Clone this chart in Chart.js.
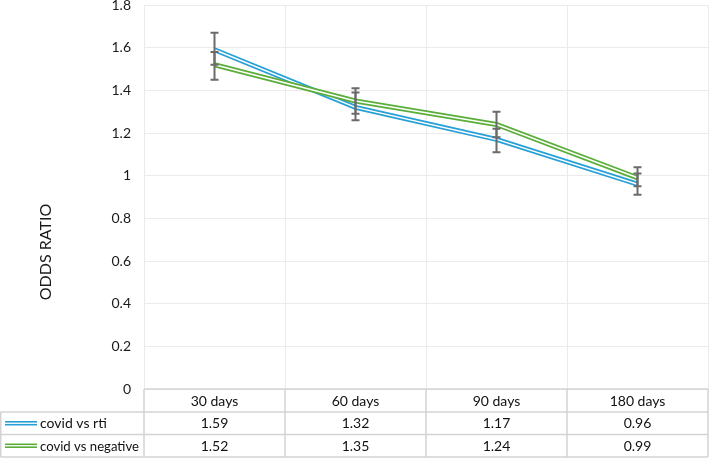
<!DOCTYPE html>
<html>
<head>
<meta charset="utf-8">
<script src="https://cdn.jsdelivr.net/npm/chart.js@4.4.0/dist/chart.umd.min.js"></script>
<style>
  html, body { margin: 0; padding: 0; background: #fff; }
</style>
</head>
<body>
<canvas id="chart" width="709" height="458"></canvas>
<script>
// ── Data ──
const categories = ['30 days', '60 days', '90 days', '180 days'];
const seriesNames = ['covid vs rti', 'covid vs negative'];
const rtiValues = [1.59, 1.32, 1.17, 0.96];
const rtiLow    = [1.52, 1.26, 1.11, 0.91];
const rtiHigh   = [1.67, 1.39, 1.22, 1.01];
const negValues = [1.52, 1.35, 1.24, 0.99];
const negLow    = [1.45, 1.29, 1.18, 0.95];
const negHigh   = [1.58, 1.41, 1.30, 1.04];
const yTicks = [0, 0.2, 0.4, 0.6, 0.8, 1, 1.2, 1.4, 1.6, 1.8];

const BLUE  = '#27a0d8';
const GREEN = '#5bae3a';
const FONT  = "Lato, 'Open Sans', sans-serif";
const ROW_H = [23, 22.5, 22.5];

// ── Error bars ──
const errorBars = {
    id: 'errorBars',
    afterDatasetsDraw(chart) {
        const { ctx, scales: { x, y } } = chart;
        const bars = [[rtiLow, rtiHigh], [negLow, negHigh]];
        ctx.save();
        ctx.strokeStyle = '#6b6b6b';
        ctx.lineWidth = 2;
        bars.forEach(([lo, hi]) => {
            categories.forEach((c, i) => {
                const px = x.getPixelForValue(i);
                const y1 = y.getPixelForValue(lo[i]);
                const y2 = y.getPixelForValue(hi[i]);
                ctx.beginPath();
                ctx.moveTo(px, y1); ctx.lineTo(px, y2);
                ctx.moveTo(px - 4, y1); ctx.lineTo(px + 4, y1);
                ctx.moveTo(px - 4, y2); ctx.lineTo(px + 4, y2);
                ctx.stroke();
            });
        });
        ctx.restore();
    }
};

// ── Data table under the plot + axis title ──
function doubleLine(ctx, x1, x2, yy, color) {
    ctx.lineCap = 'butt';
    ctx.strokeStyle = color; ctx.lineWidth = 4.5;
    ctx.beginPath(); ctx.moveTo(x1, yy); ctx.lineTo(x2, yy); ctx.stroke();
    ctx.strokeStyle = '#fff'; ctx.lineWidth = 1.3;
    ctx.beginPath(); ctx.moveTo(x1, yy); ctx.lineTo(x2, yy); ctx.stroke();
}

const dataTable = {
    id: 'dataTable',
    afterDraw(chart) {
        const { ctx, chartArea: area, scales: { x } } = chart;
        const top = area.bottom;
        const r1 = top + ROW_H[0], r2 = r1 + ROW_H[1], r3 = r2 + ROW_H[2];
        const left = area.left, right = area.right;
        const step = (x.getPixelForValue(1) - x.getPixelForValue(0));

        ctx.save();
        ctx.strokeStyle = '#d3d3d3';
        ctx.lineWidth = 1.5;
        ctx.beginPath();
        ctx.moveTo(left, top); ctx.lineTo(right, top);
        [r1, r2, r3].forEach(yy => { ctx.moveTo(0.5, yy); ctx.lineTo(right, yy); });
        for (let i = 0; i <= categories.length; i++) {
            const bx = x.getPixelForValue(i) - step / 2;
            ctx.moveTo(bx, top); ctx.lineTo(bx, r3);
        }
        ctx.moveTo(0.75, r1); ctx.lineTo(0.75, r3);
        ctx.stroke();

        ctx.fillStyle = '#111';
        ctx.font = `14px ${FONT}`;
        ctx.textAlign = 'center';
        ctx.textBaseline = 'middle';
        categories.forEach((c, i) => {
            const cx = x.getPixelForValue(i);
            ctx.fillText(c, cx, (top + r1) / 2 + 0.5);
            ctx.fillText(rtiValues[i].toFixed(2), cx, (r1 + r2) / 2 + 0.5);
            ctx.fillText(negValues[i].toFixed(2), cx, (r2 + r3) / 2 + 0.5);
        });

        ctx.textAlign = 'left';
        const mids = [(r1 + r2) / 2, (r2 + r3) / 2];
        [BLUE, GREEN].forEach((col, k) => {
            doubleLine(ctx, 5, 37, mids[k], col);
            ctx.fillStyle = '#111';
            ctx.fillText(seriesNames[k], 40, mids[k] + 0.5, 99);
        });

        // axis title
        ctx.translate(46, 252);
        ctx.rotate(-Math.PI / 2);
        ctx.textAlign = 'center';
        ctx.font = `16px ${FONT}`;
        ctx.fillStyle = '#1a1a1a';
        ctx.fillText('ODDS RATIO', 0, 0);
        ctx.restore();
    }
};

function lineSet(data, color, width, order) {
    return {
        data, borderColor: color, borderWidth: width, pointRadius: 0,
        tension: 0, fill: false, order, borderCapStyle: 'butt', borderJoinStyle: 'miter'
    };
}

new Chart(document.getElementById('chart'), {
    type: 'line',
    data: {
        labels: categories,
        datasets: [
            lineSet(rtiValues, BLUE, 5, 4),
            lineSet(rtiValues, '#fff', 1.5, 3),
            lineSet(negValues, GREEN, 5, 2),
            lineSet(negValues, '#fff', 1.5, 1),
        ]
    },
    options: {
        responsive: false,
        animation: false,
        layout: { padding: { top: 5, right: 1, bottom: 69, left: 0 } },
        plugins: { legend: { display: false }, tooltip: { enabled: false } },
        scales: {
            x: {
                offset: true,
                grid: { offset: true, color: '#ebebeb', lineWidth: 1, drawTicks: false },
                border: { display: false },
                ticks: { display: false },
                afterFit: s => { s.height = 0; }
            },
            y: {
                min: 0, max: 1.8,
                afterBuildTicks: s => { s.ticks = yTicks.map(v => ({ value: v })); },
                afterFit: s => { s.width = 144; s.paddingTop = 0; s.paddingBottom = 0; },
                grid: { color: '#ebebeb', lineWidth: 1, drawTicks: false },
                border: { display: true, color: '#ebebeb' },
                ticks: {
                    padding: 13,
                    color: '#1a1a1a',
                    font: { family: FONT, size: 14 },
                    callback: v => String(+(+v).toFixed(1))
                }
            }
        }
    },
    plugins: [errorBars, dataTable]
});
</script>
</body>
</html>
